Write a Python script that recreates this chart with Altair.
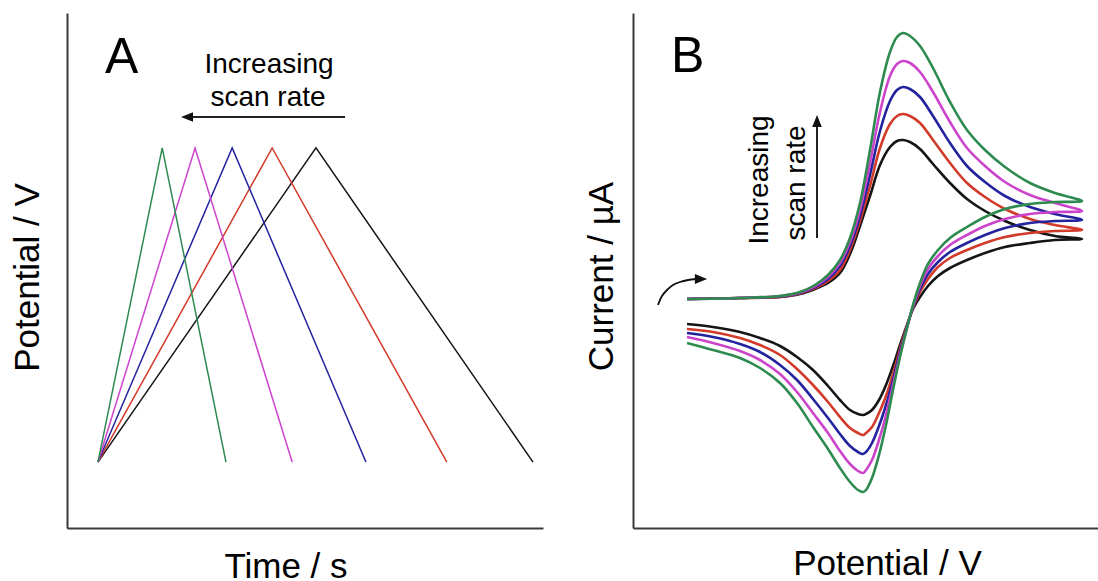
import altair as alt
import pandas as pd

FONT = "Liberation Sans"

# ---------------- Panel A : triangular potential waveforms ----------------
scans = ["black", "red", "blue", "magenta", "green"]          # slow -> fast
colors_a = ["#151515", "#d23a2a", "#23239e", "#cc44cc", "#2e8b50"]
t_start = 0.65          # s
E_low = 0.128           # V
E_high = 0.738          # V
t_peak = [5.23, 4.31, 3.47, 2.69, 2.00]
t_end = [9.79, 7.98, 6.28, 4.73, 3.34]

rows_a = []
for i, s in enumerate(scans):
    rows_a.append({"scan": s, "t": t_start, "E": E_low, "o": 0})
    rows_a.append({"scan": s, "t": t_peak[i], "E": E_high, "o": 1})
    rows_a.append({"scan": s, "t": t_end[i], "E": E_low, "o": 2})
df_a = pd.DataFrame(rows_a)

# ---------------- Panel B : cyclic voltammograms ----------------
colors_b = ["#222222", "#cc2a1a", "#1515a5", "#e033e0", "#1e8a47"]
E_fwd = [54, 107, 147, 167, 182, 195, 207, 217, 227, 237, 247, 257, 264, 270,
         277, 287, 300, 317, 334, 352, 372, 397, 422, 449]
E_rev = [449, 422, 397, 372, 352, 334, 317, 305, 295, 287, 280, 274, 267, 260,
         253, 246, 239, 233, 230, 225, 217, 207, 195, 180, 164, 147, 127, 107, 80, 54]

I_fwd = {
    "green":   [-1, 0, 2, 6, 13, 23, 38, 60, 95, 148, 206, 246, 261, 265, 262, 252,
                230, 196, 168, 148, 131, 115, 105, 97],
    "magenta": [-1, 0, 2, 5.5, 12, 21, 35, 56, 88, 135, 186, 222, 234, 237, 235, 226,
                206, 176, 150, 132, 116, 103, 95, 87],
    "blue":    [-1, 0, 1.5, 5, 11, 19, 32, 52, 82, 123, 167, 197, 208, 211, 209, 201,
                182, 155, 132, 116, 102, 91, 84, 78],
    "red":     [-1, 0, 1, 4.5, 10, 17, 28, 48, 77, 112, 150, 174, 182, 184, 182, 175,
                158, 135, 115, 101, 89, 79, 73, 68],
    "black":   [-1, 0, 1, 4, 9, 15, 25, 44, 72, 102, 133, 151, 157, 158, 156, 149,
                134, 115, 99, 87, 77, 68, 62, 59],
}
I_rev = {
    "green":   [97, 96, 94, 89, 81, 71, 60, 48, 34, 15, -7, -30, -59, -92, -127, -157,
                -180, -192, -194, -192, -184, -170, -151, -129, -105, -85, -70, -60, -52, -45],
    "magenta": [87, 86, 84, 79, 72, 63, 53, 42, 29, 12, -8, -30, -57, -87, -117, -142,
                -162, -172, -175, -173, -166, -153, -135, -115, -94, -76, -62, -53, -45, -39],
    "blue":    [78, 77, 75, 70, 63, 55, 46, 36, 24, 9, -9, -29, -54, -82, -107, -128,
                -145, -154, -156, -154, -148, -136, -120, -101, -82, -67, -54, -46, -39, -35],
    "red":     [68, 67, 65, 61, 55, 48, 40, 31, 19, 6, -10, -28, -51, -76, -98, -115,
                -129, -135, -137, -135, -130, -119, -104, -87, -71, -57, -47, -40, -34, -31],
    "black":   [59, 58, 55, 51, 45, 38, 30, 22, 12, 1, -11, -27, -47, -68, -87, -102,
                -112, -116, -117, -116, -112, -102, -88, -72, -59, -48, -40, -34, -29, -26],
}

rows_b = []
for s in scans:
    k = 0
    for e, i in zip(E_fwd, I_fwd[s]):
        rows_b.append({"scan": s, "E": e, "I": i, "o": k}); k += 1
    for e, i in zip(E_rev[1:], I_rev[s][1:]):
        rows_b.append({"scan": s, "E": e, "I": i, "o": k}); k += 1
df_b = pd.DataFrame(rows_b)

# start-direction curved arrow (panel B)
arc_E = [25, 29, 34, 40, 47, 55, 63]
arc_I = [-7, 2, 8, 13, 16, 18, 19]
df_arc = pd.DataFrame({"E": arc_E, "I": arc_I, "o": list(range(len(arc_E)))})
df_arc_head = pd.DataFrame({"E": [68], "I": [19]})

W_A, W_B, H = 476, 465, 515
AX = dict(labels=False, ticks=False, grid=False, domain=True,
          domainColor="#3a3a3a", domainWidth=2, titleFont=FONT,
          titleFontSize=35, titleFontWeight="normal", titleColor="#000000",
          titleBaseline="alphabetic")

one = pd.DataFrame({"k": [0]})
HEAD_LEFT = "M-1,0L1,-0.8L1,0.8Z"
HEAD_RIGHT = "M1,0L-1,-0.8L-1,0.8Z"
HEAD_UP = "M0,-1L-0.8,1L0.8,1Z"

# ---- panel A chart ----
lines_a = alt.Chart(df_a).mark_line(strokeWidth=1.5).encode(
    x=alt.X("t:Q", scale=alt.Scale(domain=[0, 10], nice=False, zero=False),
            axis=alt.Axis(title="Time / s", titleX=218.5, titleY=49, **AX)),
    y=alt.Y("E:Q", scale=alt.Scale(domain=[0, 1], nice=False, zero=False),
            axis=alt.Axis(title="Potential / V", titleX=-29, titleY=264, **AX)),
    color=alt.Color("scan:N", scale=alt.Scale(domain=scans, range=colors_a), legend=None),
    order="o:Q",
)
lab_a = alt.Chart(one).mark_text(text="A", font=FONT, fontSize=50, align="left",
                                 baseline="alphabetic", color="black").encode(
    x=alt.value(38), y=alt.value(60))
inc_a1 = alt.Chart(one).mark_text(text="Increasing", font=FONT, fontSize=28, align="center",
                                  baseline="alphabetic", color="black").encode(
    x=alt.value(202), y=alt.value(60))
inc_a2 = alt.Chart(one).mark_text(text="scan rate", font=FONT, fontSize=28, align="center",
                                  baseline="alphabetic", color="black").encode(
    x=alt.value(201), y=alt.value(93))
arr_a = alt.Chart(one).mark_rule(strokeWidth=2, color="#222").encode(
    x=alt.value(278), x2=alt.value(124), y=alt.value(104))
arr_a_head = alt.Chart(one).mark_point(shape=HEAD_LEFT, size=144, filled=True,
                                       color="#111", opacity=1).encode(
    x=alt.value(120), y=alt.value(104))

chart_a = alt.layer(lines_a, lab_a, inc_a1, inc_a2, arr_a, arr_a_head).properties(
    width=W_A, height=H)

# ---- panel B chart ----
xb = alt.X("E:Q", scale=alt.Scale(domain=[0, 465], nice=False, zero=False),
           axis=alt.Axis(title="Potential / V", titleX=254, titleY=46, **AX))
yb = alt.Y("I:Q", scale=alt.Scale(domain=[-230, 285], nice=False, zero=False),
           axis=alt.Axis(title="Current / µA", titleX=-21, titleY=263, **AX))

lines_b = alt.Chart(df_b).mark_line(strokeWidth=2.6, interpolate="catmull-rom").encode(
    x=xb, y=yb,
    color=alt.Color("scan:N", scale=alt.Scale(domain=scans, range=colors_b), legend=None),
    order="o:Q",
)
arc_b = alt.Chart(df_arc).mark_line(strokeWidth=1.8, color="#111",
                                    interpolate="catmull-rom").encode(
    x="E:Q", y="I:Q", order="o:Q")
arc_b_head = alt.Chart(df_arc_head).mark_point(shape=HEAD_RIGHT, size=150, filled=True,
                                               color="#111", opacity=1).encode(
    x="E:Q", y="I:Q")
lab_b = alt.Chart(one).mark_text(text="B", font=FONT, fontSize=50, align="left",
                                 baseline="alphabetic", color="black").encode(
    x=alt.value(38), y=alt.value(59))
inc_b1 = alt.Chart(one).mark_text(text="Increasing", font=FONT, fontSize=28, align="center",
                                  baseline="alphabetic", angle=270, color="black").encode(
    x=alt.value(135), y=alt.value(167))
inc_b2 = alt.Chart(one).mark_text(text="scan rate", font=FONT, fontSize=28, align="center",
                                  baseline="alphabetic", angle=270, color="black").encode(
    x=alt.value(172), y=alt.value(170))
arr_b = alt.Chart(one).mark_rule(strokeWidth=2, color="#222").encode(
    x=alt.value(184), y=alt.value(225), y2=alt.value(110))
arr_b_head = alt.Chart(one).mark_point(shape=HEAD_UP, size=144, filled=True,
                                       color="#111", opacity=1).encode(
    x=alt.value(184), y=alt.value(108))

chart_b = alt.layer(lines_b, arc_b, arc_b_head, lab_b, inc_b1, inc_b2, arr_b,
                    arr_b_head).properties(width=W_B, height=H)

chart = alt.hconcat(chart_a, chart_b, spacing=90, bounds="flush").properties(
    autosize=alt.AutoSizeParams(type="pad"),
    padding={"left": 10, "top": 13, "right": 0, "bottom": 0},
    background="white",
).configure_view(stroke=None)

chart.save("out.html", embed_options={"renderer": "svg", "actions": False})
